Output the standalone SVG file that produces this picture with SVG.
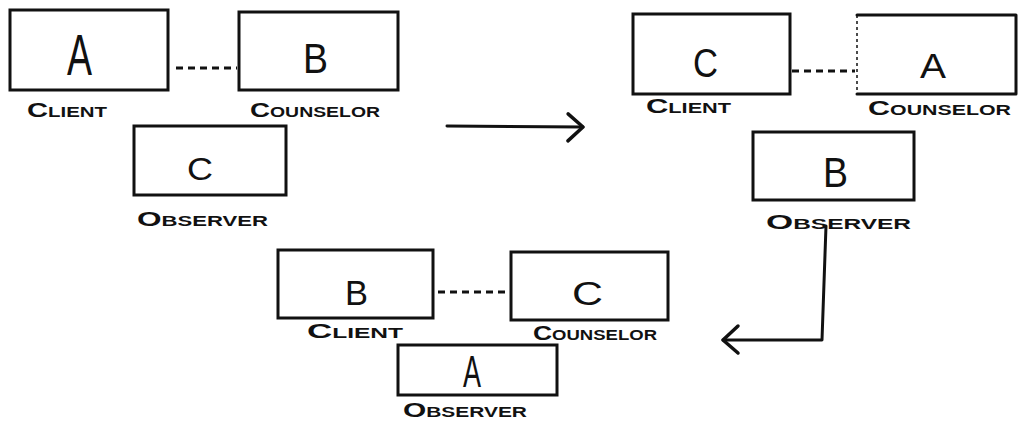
<svg xmlns="http://www.w3.org/2000/svg" width="1018" height="428" viewBox="0 0 1018 428">
  <style>
    .box { fill: #fff; stroke: #111; stroke-width: 3; }
    .edge { fill: none; stroke: #111; stroke-width: 3; stroke-linecap: round; stroke-linejoin: round; }
    .thin { fill: none; stroke: #111; stroke-width: 1.5; stroke-dasharray: 3 3; }
    .dash { fill: none; stroke: #111; stroke-width: 3; stroke-dasharray: 7 5; }
    .conn { fill: none; stroke: #111; stroke-width: 3; stroke-linecap: round; stroke-linejoin: round; }
    .letter { font-family: "Liberation Sans", Arial, sans-serif; fill: #111; }
    .lbl { font-family: "Liberation Sans", Arial, sans-serif; font-weight: bold; font-size: 20px; font-variant: small-caps; fill: #111; }
  </style>
  <defs>
    <marker id="chev" markerUnits="userSpaceOnUse" orient="auto" markerWidth="40" markerHeight="40" refX="0" refY="0" viewBox="-20 -20 40 40" overflow="visible">
      <path d="M-15,-13 L0,0 L-15,14" fill="none" stroke="#111" stroke-width="3.5" stroke-linecap="round" stroke-linejoin="round"/>
    </marker>
  </defs>
  <rect width="1018" height="428" fill="#fff"/>

  <!-- Panel 1 -->
  <g id="p1-client">
    <rect class="box" x="10" y="10" width="158" height="80"/>
    <text class="letter" x="67" y="75" font-size="58" textLength="25" lengthAdjust="spacingAndGlyphs">A</text>
    <text class="lbl" x="27" y="117" textLength="80" lengthAdjust="spacingAndGlyphs">Client</text>
  </g>
  <g id="p1-counselor">
    <rect class="box" x="239" y="12" width="159" height="78"/>
    <text class="letter" x="303" y="73" font-size="42" textLength="25" lengthAdjust="spacingAndGlyphs">B</text>
    <text class="lbl" x="250" y="117" textLength="130" lengthAdjust="spacingAndGlyphs">Counselor</text>
  </g>
  <g id="p1-observer">
    <rect class="box" x="134" y="126" width="152" height="69"/>
    <text class="letter" x="187" y="180" font-size="31" textLength="26" lengthAdjust="spacingAndGlyphs">C</text>
    <text class="lbl" x="137" y="226" textLength="131" lengthAdjust="spacingAndGlyphs">Observer</text>
  </g>

  <!-- Panel 2 -->
  <g id="p2-client">
    <rect class="box" x="633" y="14" width="157" height="80"/>
    <text class="letter" x="693" y="77" font-size="40" textLength="25" lengthAdjust="spacingAndGlyphs">C</text>
    <text class="lbl" x="646" y="113" textLength="85" lengthAdjust="spacingAndGlyphs">Client</text>
  </g>
  <g id="p2-counselor">
    <path class="edge" d="M857,15 L1016,15 L1016,94 L857,94"/>
    <line class="thin" x1="857" y1="15" x2="857" y2="94"/>
    <text class="letter" x="920" y="78" font-size="35" textLength="26" lengthAdjust="spacingAndGlyphs">A</text>
    <text class="lbl" x="868" y="115" textLength="143" lengthAdjust="spacingAndGlyphs">Counselor</text>
  </g>
  <g id="p2-observer">
    <rect class="box" x="753" y="132" width="161" height="68"/>
    <text class="letter" x="823" y="187" font-size="42" textLength="25" lengthAdjust="spacingAndGlyphs">B</text>
    <text class="lbl" x="766" y="229" textLength="145" lengthAdjust="spacingAndGlyphs">Observer</text>
  </g>

  <!-- Panel 3 -->
  <g id="p3-client">
    <rect class="box" x="278" y="250" width="155" height="68"/>
    <text class="letter" x="345" y="305" font-size="35" textLength="23" lengthAdjust="spacingAndGlyphs">B</text>
    <text class="lbl" x="307" y="338" textLength="96" lengthAdjust="spacingAndGlyphs">Client</text>
  </g>
  <g id="p3-counselor">
    <rect class="box" x="511" y="252" width="157" height="68"/>
    <text class="letter" x="572" y="305" font-size="34" textLength="31" lengthAdjust="spacingAndGlyphs">C</text>
    <text class="lbl" x="533" y="340" textLength="124" lengthAdjust="spacingAndGlyphs">Counselor</text>
  </g>
  <g id="p3-observer">
    <rect class="box" x="398" y="345" width="159" height="50"/>
    <text class="letter" x="463" y="387" font-size="45" textLength="18" lengthAdjust="spacingAndGlyphs">A</text>
    <text class="lbl" x="403" y="417" textLength="124" lengthAdjust="spacingAndGlyphs">Observer</text>
  </g>

  <!-- Connectors -->
  <g id="connectors">
    <line class="dash" x1="176" y1="68" x2="237" y2="68"/>
    <line class="dash" x1="792" y1="71" x2="855" y2="71"/>
    <line class="dash" x1="438" y1="292" x2="509" y2="292"/>
    <path class="conn" d="M447,126 L583,127" marker-end="url(#chev)"/>
    <path class="conn" d="M826,226 L822,340 L723,340" marker-end="url(#chev)"/>
  </g>
</svg>
